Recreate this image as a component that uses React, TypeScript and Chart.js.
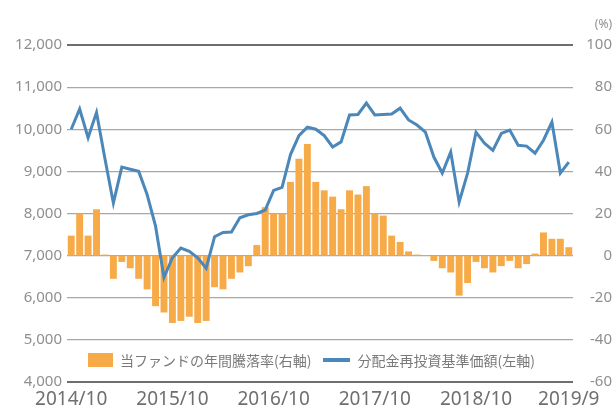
import React, { useEffect, useRef } from 'react';
import { Chart, registerables } from 'chart.js';

Chart.register(...registerables);

// Monthly categories, 2014/10 .. 2019/9
const months: string[] = [
  '2014/10', '2014/11', '2014/12', '2015/1', '2015/2', '2015/3', '2015/4', '2015/5', '2015/6', '2015/7', '2015/8', '2015/9',
  '2015/10', '2015/11', '2015/12', '2016/1', '2016/2', '2016/3', '2016/4', '2016/5', '2016/6', '2016/7', '2016/8', '2016/9',
  '2016/10', '2016/11', '2016/12', '2017/1', '2017/2', '2017/3', '2017/4', '2017/5', '2017/6', '2017/7', '2017/8', '2017/9',
  '2017/10', '2017/11', '2017/12', '2018/1', '2018/2', '2018/3', '2018/4', '2018/5', '2018/6', '2018/7', '2018/8', '2018/9',
  '2018/10', '2018/11', '2018/12', '2019/1', '2019/2', '2019/3', '2019/4', '2019/5', '2019/6', '2019/7', '2019/8', '2019/9',
];

const shownTicks: string[] = ['2014/10', '2015/10', '2016/10', '2017/10', '2018/10', '2019/9'];

// 分配金再投資基準価額 (left axis, yen)
const navValues: number[] = [
  10000, 10480, 9800, 10400, 9300, 8250, 9100, 9050, 9000, 8450, 7700, 6480,
  6950, 7180, 7100, 6950, 6700, 7450, 7550, 7560, 7900, 7970, 8000, 8080,
  8550, 8620, 9400, 9850, 10050, 10000, 9850, 9580, 9700, 10340, 10350, 10620,
  10340, 10350, 10360, 10500, 10220, 10100, 9930, 9340, 8960, 9460, 8270, 8960,
  9930, 9670, 9500, 9900, 9980, 9620, 9600, 9430, 9740, 10170, 8960, 9220,
];

// 当ファンドの年間騰落率 (right axis, %)
const returnValues: number[] = [
  9.5, 20, 9.5, 22, 0.5, -11, -3, -6, -11, -16, -24, -27,
  -32, -31, -29, -32, -31, -15, -16, -11, -8, -5, 5, 23,
  20, 20, 35, 46, 53, 35, 31, 28, 22, 31, 29, 33,
  20, 19, 9.5, 6.5, 2, 0.5, 0.3, -2.5, -6, -8, -19, -13,
  -3, -6, -8, -5, -2.5, -6, -4, 1, 11, 8, 8, 4,
];

const barLabel = '当ファンドの年間騰落率(右軸)';
const lineLabel = '分配金再投資基準価額(左軸)';

const BAR_COLOR = '#F6AA48';
const LINE_COLOR = '#4B87B8';
const AXIS_TEXT = '#8f8f8f';

export default function App() {
  const ref = useRef<HTMLCanvasElement>(null);

  useEffect(() => {
    const pctPlugin = {
      id: 'pctUnit',
      afterDraw(chart: any) {
        const { ctx } = chart;
        const s = chart.scales.y1;
        ctx.save();
        ctx.fillStyle = AXIS_TEXT;
        ctx.font = '12px "Noto Sans"';
        ctx.textAlign = 'right';
        ctx.textBaseline = 'middle';
        ctx.fillText('(%)', s.right, 25);
        ctx.restore();
      },
    };

    const chart = new Chart(ref.current!, {
      type: 'bar',
      data: {
        labels: months,
        datasets: [
          {
            type: 'bar',
            label: barLabel,
            data: returnValues,
            backgroundColor: BAR_COLOR,
            yAxisID: 'y1',
            barPercentage: 0.82,
            categoryPercentage: 1,
            order: 2,
          },
          {
            type: 'line',
            label: lineLabel,
            data: navValues,
            borderColor: LINE_COLOR,
            borderWidth: 3,
            pointRadius: 0,
            tension: 0,
            yAxisID: 'y',
            order: 1,
          } as any,
        ],
      },
      options: {
        animation: false,
        responsive: false,
        layout: { padding: { top: 45, right: 4, bottom: 0, left: 0 } },
        plugins: { legend: { display: false }, tooltip: { enabled: false } },
        scales: {
          x: {
            grid: { display: false, drawTicks: false },
            border: { display: false },
            ticks: {
              autoSkip: false,
              maxRotation: 0,
              minRotation: 0,
              padding: 6,
              color: '#6f6f6f',
              font: { family: '"Noto Sans"', size: 19 },
              callback: (_v: any, i: number) => (shownTicks.includes(months[i]) ? months[i] : ''),
            },
            afterFit: (s: any) => {
              s.height = 26;
            },
          },
          y: {
            position: 'left',
            min: 4000,
            max: 12000,
            grid: {
              drawTicks: false,
              color: (c: any) => (c.tick && (c.tick.value === 12000 || c.tick.value === 4000) ? '#6e6e6e' : '#a8a8a8'),
              lineWidth: (c: any) => (c.tick && (c.tick.value === 12000 || c.tick.value === 4000) ? 2 : 1.2),
            },
            border: { display: false },
            ticks: {
              stepSize: 1000,
              padding: 5,
              color: AXIS_TEXT,
              font: { family: '"Noto Sans"', size: 15 },
              callback: (v: any) => Number(v).toLocaleString('en-US'),
            },
            afterFit: (s: any) => {
              s.width = 67;
            },
          },
          y1: {
            position: 'right',
            min: -60,
            max: 100,
            grid: { display: false, drawTicks: false },
            border: { display: false },
            ticks: {
              stepSize: 20,
              padding: 5,
              crossAlign: 'far',
              color: AXIS_TEXT,
              font: { family: '"Noto Sans"', size: 15 },
            },
            afterFit: (s: any) => {
              s.width = 39;
            },
          },
        },
      } as any,
      plugins: [pctPlugin],
    });
    return () => chart.destroy();
  }, []);

  const legendText: React.CSSProperties = {
    fontFamily: '"Noto Sans CJK JP", "Noto Sans", sans-serif',
    fontSize: 14,
    color: '#7a7a7a',
    whiteSpace: 'nowrap',
    lineHeight: '16px',
  };

  return (
    <div style={{ position: 'fixed', left: 0, top: 0, width: 616, height: 408, background: '#fff' }}>
      <canvas ref={ref} width={616} height={408} style={{ display: 'block', width: 616, height: 408 }} />
      <div
        style={{
          position: 'absolute',
          left: 88,
          top: 352,
          height: 16,
          display: 'flex',
          alignItems: 'center',
        }}
      >
        <span style={{ display: 'inline-block', width: 25, height: 14, background: BAR_COLOR, marginRight: 7 }} />
        <span style={legendText}>{barLabel}</span>
        <span style={{ display: 'inline-block', width: 27, height: 4, background: LINE_COLOR, marginLeft: 12, marginRight: 7 }} />
        <span style={legendText}>{lineLabel}</span>
      </div>
    </div>
  );
}
